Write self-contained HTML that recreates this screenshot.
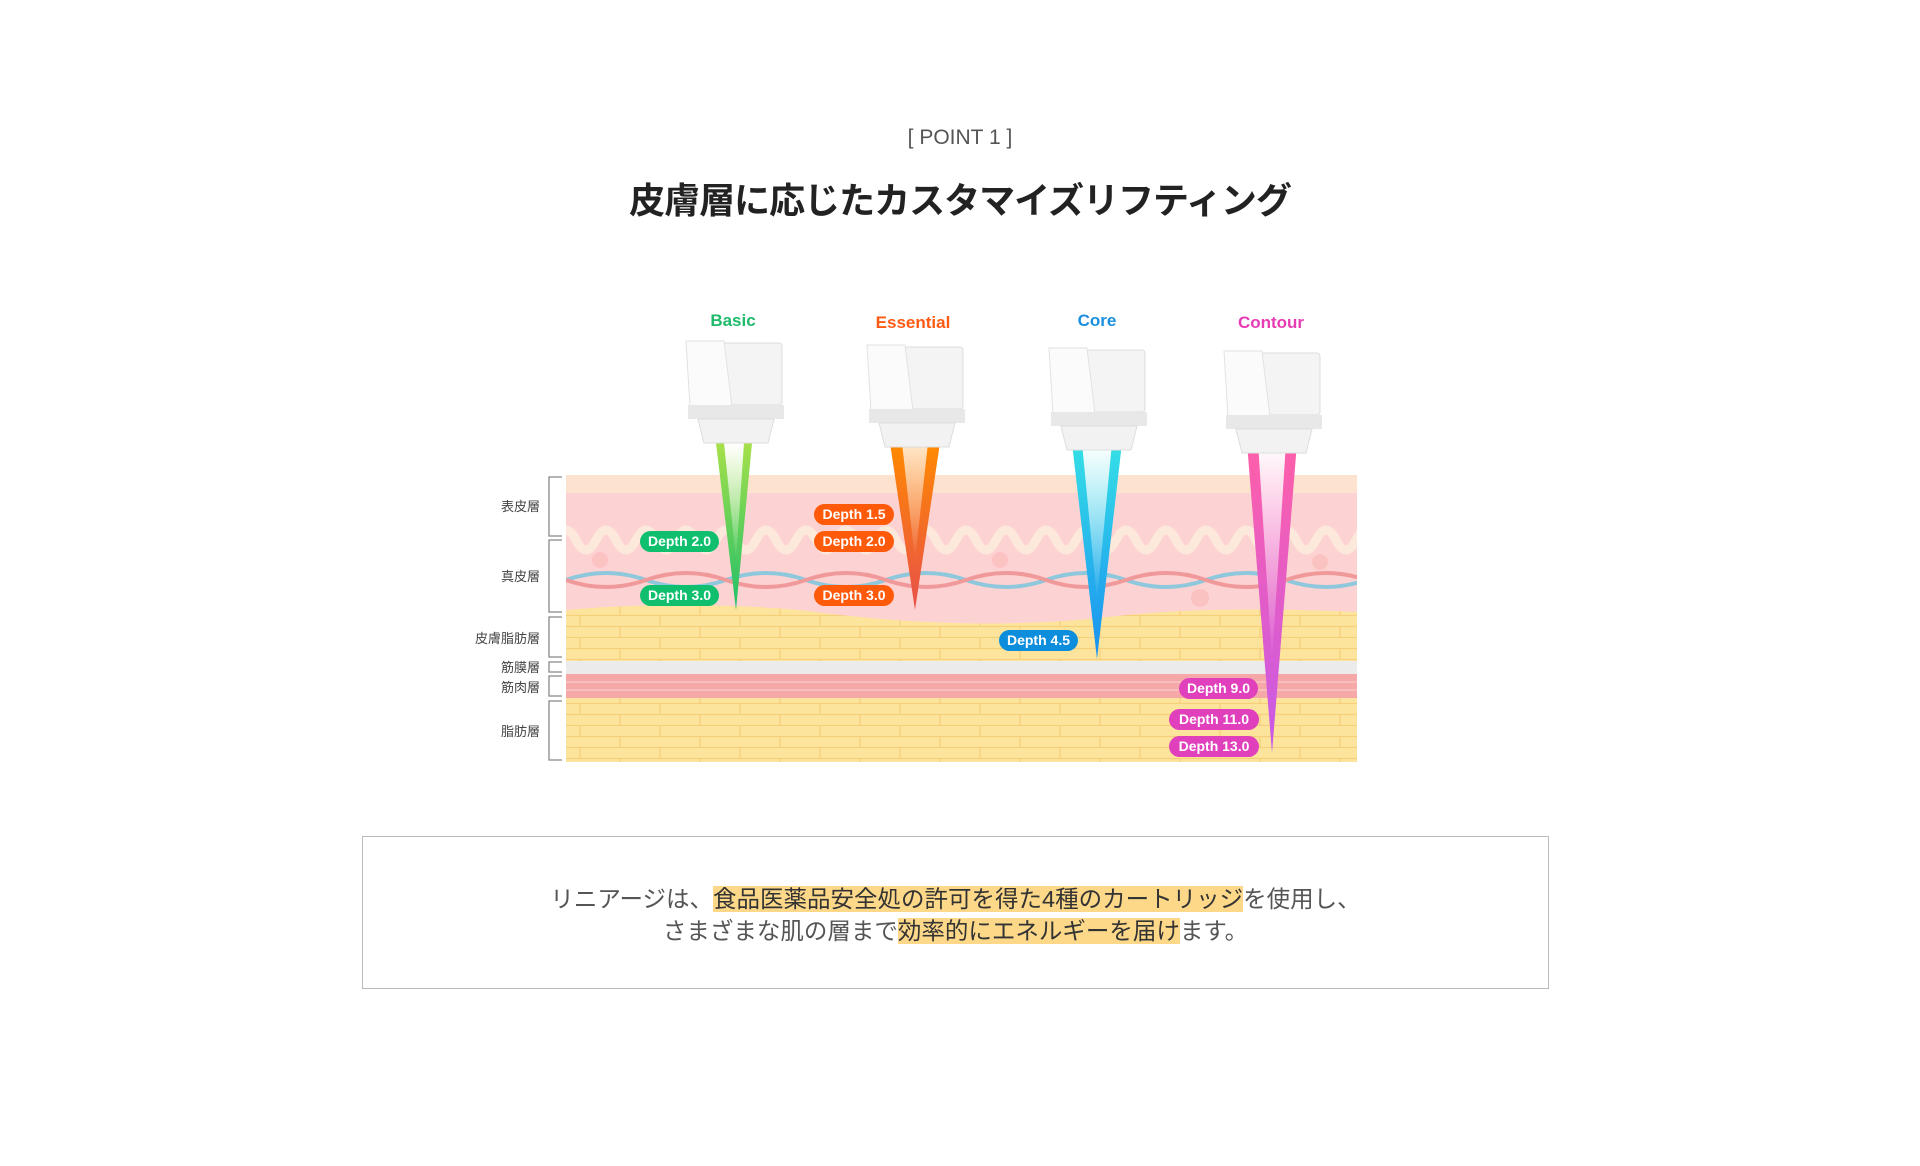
<!DOCTYPE html>
<html><head><meta charset="utf-8"><style>
html,body{margin:0;padding:0;background:#fff;}
body{width:1920px;height:1166px;overflow:hidden;position:relative;font-family:"Liberation Sans","Noto Sans CJK JP",sans-serif;}
.pt{position:absolute;top:126px;left:0;width:1920px;text-align:center;font-size:21px;color:#555;}
.tt{position:absolute;top:172px;left:0;width:1920px;text-align:center;font-size:36px;font-weight:bold;color:#222;letter-spacing:-1px;}
.box{position:absolute;left:362px;top:836px;width:1187px;height:153px;border:1px solid #bbb;box-sizing:border-box;text-align:center;font-size:23.5px;color:#555;line-height:32px;padding-top:46px;}
.hl{background:#fdd889;color:#333;}
svg{position:absolute;left:0;top:0;}
</style></head><body>
<div class="pt">[ POINT 1 ]</div>
<div class="tt">皮膚層に応じたカスタマイズリフティング</div>
<svg width="1920" height="1166" viewBox="0 0 1920 1166" font-family="Liberation Sans, Noto Sans CJK JP, sans-serif">
<defs>
<pattern id="brick" width="80" height="22" patternUnits="userSpaceOnUse">
<rect width="80" height="22" fill="#fde49c"/>
<path d="M0 21.5H80M0 10.5H80M20 0V11M60 11V22" stroke="#f5cf7a" stroke-width="1.2" fill="none"/>
</pattern>
<clipPath id="skin"><rect x="566" y="475" width="791" height="287"/></clipPath>
<linearGradient id="gG" x1="0" y1="0" x2="0" y2="1"><stop offset="0" stop-color="#a6e04a"/><stop offset="1" stop-color="#1fbf6a"/></linearGradient>
<linearGradient id="gO" x1="0" y1="0" x2="0" y2="1"><stop offset="0" stop-color="#ff8a00"/><stop offset="1" stop-color="#e8504a"/></linearGradient>
<linearGradient id="gB" x1="0" y1="0" x2="0" y2="1"><stop offset="0" stop-color="#35e0e6"/><stop offset="1" stop-color="#1a8ff0"/></linearGradient>
<linearGradient id="gP" x1="0" y1="0" x2="0" y2="1"><stop offset="0" stop-color="#ff5fa8"/><stop offset="1" stop-color="#c65ae8"/></linearGradient>
<linearGradient id="gW" x1="0" y1="0" x2="0" y2="1"><stop offset="0" stop-color="#fff" stop-opacity="1"/><stop offset="1" stop-color="#fff" stop-opacity="0"/></linearGradient>
<g id="dev">
<rect x="-44" y="0" width="92" height="62" rx="3" fill="#f4f4f4" stroke="#ddd"/>
<path d="M-48 -2H-10L-2 64H-44Z" fill="#fbfbfb" stroke="#e2e2e2"/>
<rect x="-46" y="62" width="96" height="14" fill="#e8e8e8"/>
<path d="M-36 76H40L34 100H-30Z" fill="#f2f2f2" stroke="#ddd"/>
</g>
</defs>
<g clip-path="url(#skin)">
<rect x="566" y="475" width="791" height="287" fill="url(#brick)"/>
<path d="M566 475H1357V612Q1200 605 1100 618Q960 632 800 610Q680 600 566 610Z" fill="#fdd2d2"/>
<rect x="566" y="475" width="791" height="18" fill="#fde2d0"/>
<path d="M556 540 q10 -20 20 0 t20 0 t20 0 t20 0 t20 0 t20 0 t20 0 t20 0 t20 0 t20 0 t20 0 t20 0 t20 0 t20 0 t20 0 t20 0 t20 0 t20 0 t20 0 t20 0 t20 0 t20 0 t20 0 t20 0 t20 0 t20 0 t20 0 t20 0 t20 0 t20 0 t20 0 t20 0 t20 0 t20 0 t20 0 t20 0 t20 0 t20 0 t20 0 t20 0 t20 0" stroke="#fde8dc" stroke-width="9" fill="none"/>
<circle cx="600" cy="560" r="8" fill="#fbc2c2"/><circle cx="700" cy="595" r="9" fill="#fbc2c2"/><circle cx="1000" cy="560" r="8" fill="#fbc2c2"/><circle cx="1200" cy="598" r="9" fill="#fbc2c2"/><circle cx="1320" cy="562" r="8" fill="#fbc2c2"/>
<path d="M566 580 q40 -14 80 0 t80 0 t80 0 t80 0 t80 0 t80 0 t80 0 t80 0 t80 0 t80 0" stroke="#8ec8dc" stroke-width="4" fill="none"/>
<path d="M566 580 q40 14 80 0 t80 0 t80 0 t80 0 t80 0 t80 0 t80 0 t80 0 t80 0 t80 0" stroke="#f0999a" stroke-width="4" fill="none"/>
<rect x="566" y="661" width="791" height="13" fill="#ebebeb"/>
<rect x="566" y="674" width="791" height="24" fill="#f6a8a8"/>
<path d="M566 682H1357M566 690H1357" stroke="#f9c4c4" stroke-width="1.5"/>
</g>
<g stroke="#888" stroke-width="1.3" fill="none">
<path d="M562 477H549V536H562M562 540H549V612H562M562 617H549V657H562M562 662H549V672H562M562 676H549V696H562M562 701H549V760H562"/>
</g>
<g font-size="13" fill="#444" text-anchor="end">
<text x="540" y="511">表皮層</text><text x="540" y="581">真皮層</text><text x="540" y="643">皮膚脂肪層</text>
<text x="540" y="672">筋膜層</text><text x="540" y="692">筋肉層</text><text x="540" y="736">脂肪層</text>
</g>
<polygon points="716,443 752,443 736,610" fill="url(#gG)"/><polygon points="724,443 744,443 736,560" fill="url(#gW)"/>
<polygon points="890,443 940,443 915,610" fill="url(#gO)"/><polygon points="902,443 928,443 915,560" fill="url(#gW)" opacity=".8"/>
<polygon points="1072,443 1122,443 1097,659" fill="url(#gB)"/><polygon points="1082,443 1112,443 1097,600" fill="url(#gW)"/>
<polygon points="1247,443 1297,443 1272,753" fill="url(#gP)"/><polygon points="1258,443 1286,443 1272,660" fill="url(#gW)"/>
<use href="#dev" x="734" y="343"/><use href="#dev" x="915" y="347"/><use href="#dev" x="1097" y="350"/><use href="#dev" x="1272" y="353"/>
<g font-size="17" font-weight="bold" text-anchor="middle">
<text x="733" y="326" fill="#1dbb6a">Basic</text><text x="913" y="328" fill="#ff5a14">Essential</text>
<text x="1097" y="326" fill="#1a8fe0">Core</text><text x="1271" y="328" fill="#e83cb4">Contour</text>
</g>
<g font-size="14" font-weight="bold" fill="#fff" text-anchor="middle">
<rect x="640" y="531" width="79" height="21" rx="10.5" fill="#0fbf6e"/><text x="679.5" y="546">Depth 2.0</text>
<rect x="640" y="585" width="79" height="21" rx="10.5" fill="#0fbf6e"/><text x="679.5" y="600">Depth 3.0</text>
<rect x="814" y="504" width="80" height="21" rx="10.5" fill="#ff5a0a"/><text x="854" y="519">Depth 1.5</text>
<rect x="814" y="531" width="80" height="21" rx="10.5" fill="#ff5a0a"/><text x="854" y="546">Depth 2.0</text>
<rect x="814" y="585" width="80" height="21" rx="10.5" fill="#ff5a0a"/><text x="854" y="600">Depth 3.0</text>
<rect x="999" y="630" width="79" height="21" rx="10.5" fill="#0c8edc"/><text x="1038.5" y="645">Depth 4.5</text>
<rect x="1179" y="678" width="79" height="21" rx="10.5" fill="#e040bc"/><text x="1218.5" y="693">Depth 9.0</text>
<rect x="1169" y="709" width="90" height="21" rx="10.5" fill="#e040bc"/><text x="1214" y="724">Depth 11.0</text>
<rect x="1169" y="736" width="90" height="21" rx="10.5" fill="#e040bc"/><text x="1214" y="751">Depth 13.0</text>
</g>
</svg>
<div class="box">リニアージは、<span class="hl">食品医薬品安全処の許可を得た4種のカートリッジ</span>を使用し、<br>さまざまな肌の層まで<span class="hl">効率的にエネルギーを届け</span>ます。</div>
</body></html>
